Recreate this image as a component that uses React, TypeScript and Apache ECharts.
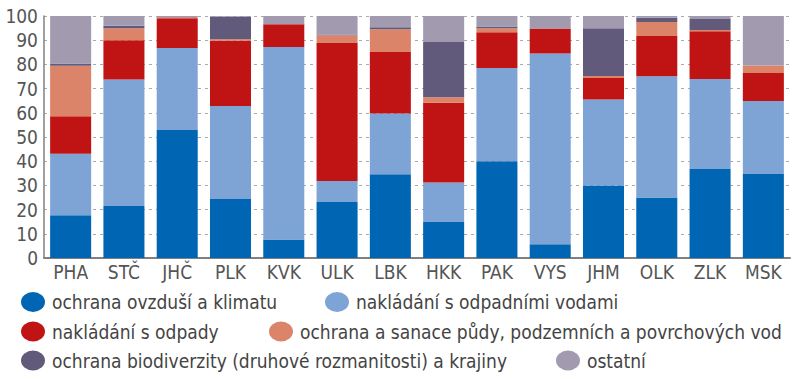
import React, { useEffect, useRef } from "react";
import * as echarts from "echarts";

const categories = ["PHA", "STČ", "JHČ", "PLK", "KVK", "ULK", "LBK", "HKK", "PAK", "VYS", "JHM", "OLK", "ZLK", "MSK"];
const seriesNames = [
  "ochrana ovzduší a klimatu",
  "nakládání s odpadními vodami",
  "nakládání s odpady",
  "ochrana a sanace půdy, podzemních a povrchových vod",
  "ochrana biodiverzity (druhové rozmanitosti) a krajiny",
  "ostatní",
];
const ovzdusi = [17.7, 21.5, 52.9, 24.4, 7.6, 23.1, 34.6, 14.9, 40.0, 5.7, 30.0, 25.0, 36.8, 34.7];
const odpadniVody = [25.4, 52.3, 33.9, 38.4, 79.6, 8.7, 25.1, 16.3, 38.5, 78.8, 35.5, 50.1, 37.2, 30.2];
const odpady = [15.5, 16.2, 12.3, 27.0, 9.4, 57.0, 25.4, 33.0, 14.8, 10.3, 8.9, 16.6, 19.7, 11.5];
const puda = [20.8, 4.9, 0.4, 0.6, 0, 3.2, 9.4, 2.2, 1.6, 0, 0.8, 5.8, 0.5, 3.1];
const biodiverzita = [1.0, 1.1, 0.1, 9.3, 0, 0.4, 0.9, 22.9, 0.8, 0, 19.7, 1.8, 4.6, 0];
const ostatni = [19.6, 4.0, 0.4, 0.3, 3.4, 7.6, 4.6, 10.7, 4.3, 5.2, 5.1, 0.7, 1.2, 20.5];
const yTicks = { min: 0, max: 100, interval: 10 };

const colors = ["#0066b3", "#7ea4d6", "#c01414", "#db846a", "#625a7a", "#a29bb0"];
const FONT = "'DejaVu Sans Condensed', 'Open Sans', sans-serif";
const ellipse = "path://M50,0A50,50,0,1,1,50,100A50,50,0,1,1,50,0Z";

// legend item placement: [left, top]
const legendPlaces: [number, number][] = [
  [21, 292],
  [325, 292],
  [21, 321.5],
  [269, 321.5],
  [21, 350.5],
  [556, 350.5],
];

export default function App() {
  const ref = useRef<HTMLDivElement>(null);
  useEffect(() => {
    if (!ref.current) return;
    const chart = echarts.init(ref.current, null, { renderer: "svg" });
    const values = [ovzdusi, odpadniVody, odpady, puda, biodiverzita, ostatni];
    chart.setOption({
      animation: false,
      color: colors,
      textStyle: { fontFamily: FONT },
      grid: { left: 44, right: 10, top: 16, bottom: 121 },
      legend: seriesNames.map((name, i) => ({
        left: legendPlaces[i][0],
        top: legendPlaces[i][1],
        padding: 0,
        itemWidth: 24,
        itemHeight: 20,
        icon: ellipse,
        symbolKeepAspect: false,
        selectedMode: false,
        data: [name],
        textStyle: { fontFamily: FONT, fontSize: 19, color: "#444", padding: [0, 0, 0, 2] },
      })),
      xAxis: {
        type: "category",
        data: categories,
        axisLine: { lineStyle: { color: "#808080", width: 2 } },
        axisTick: { show: false },
        axisLabel: { fontFamily: FONT, fontSize: 19, color: "#555", margin: 4 },
      },
      yAxis: {
        type: "value",
        min: yTicks.min,
        max: yTicks.max,
        interval: yTicks.interval,
        axisLine: { show: true, lineStyle: { color: "#808080", width: 1.5 } },
        axisTick: { show: false },
        axisLabel: { fontFamily: FONT, fontSize: 19, color: "#555", margin: 6 },
        splitLine: { lineStyle: { color: "#aaa", type: [3, 4], width: 1 } },
      },
      series: seriesNames.map((name, i) => ({
        name,
        type: "bar",
        stack: "total",
        barCategoryGap: "23%",
        data: values[i],
        itemStyle: { color: colors[i] },
      })),
    });
    return () => chart.dispose();
  }, []);
  return <div ref={ref} style={{ width: 800, height: 379, position: "absolute", left: 0, top: 0 }} />;
}
